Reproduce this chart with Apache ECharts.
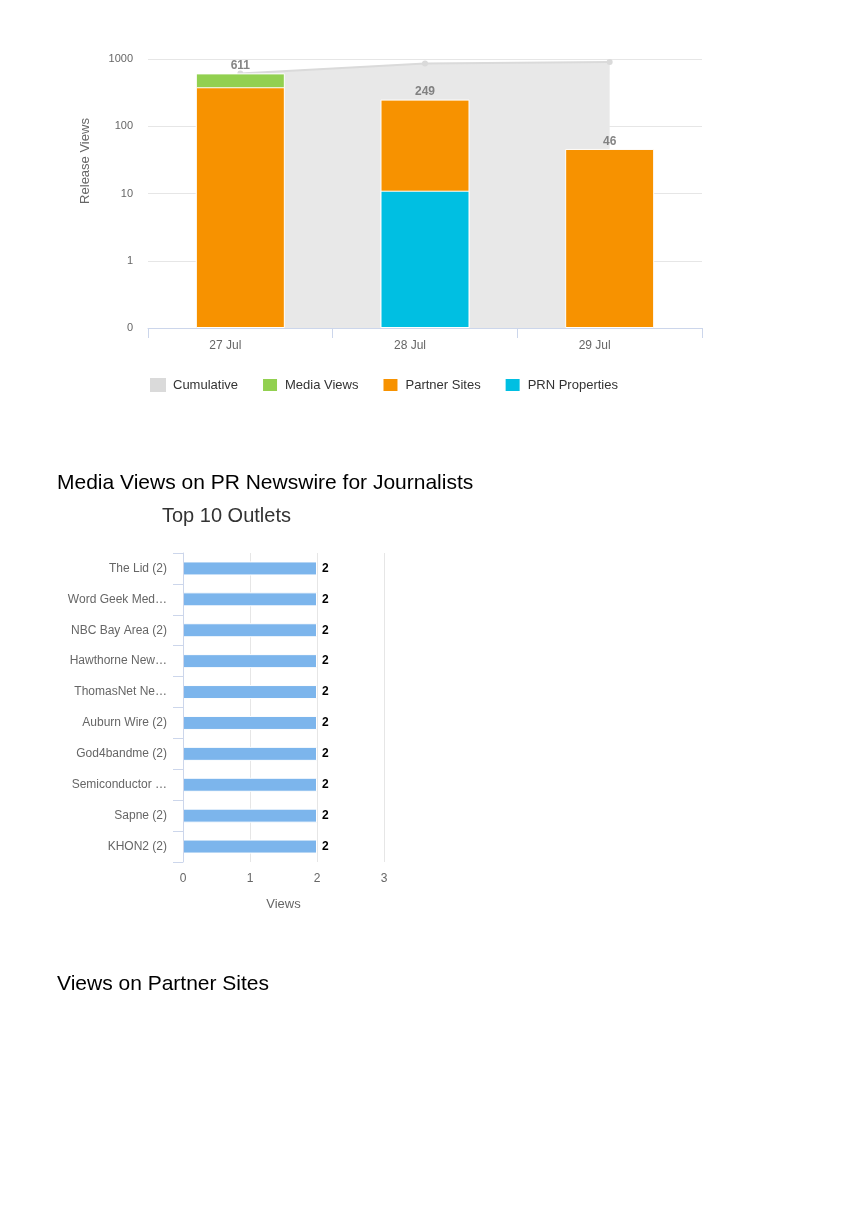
<!DOCTYPE html>
<html>
<head>
<meta charset="utf-8">
<script src="https://cdn.jsdelivr.net/npm/echarts@6/dist/echarts.min.js"></script>
<style>
  html, body { margin: 0; padding: 0; background: #fff; }
  #chart-container { width: 864px; height: 1223px; }
</style>
</head>
<body>
<div id="chart-container"></div>
<script>
// release views by day
var days = ["27 Jul", "28 Jul", "29 Jul"];
var cumulative = [611, 860, 906];
var mediaViews = [231, 0, 0];
var partnerSites = [380, 238, 46];
var prnProperties = [0, 11, 0];

// top 10 outlets
var outlets = [
  "The Lid (2)",
  "Word Geek Med\u2026",
  "NBC Bay Area (2)",
  "Hawthorne New\u2026",
  "ThomasNet Ne\u2026",
  "Auburn Wire (2)",
  "God4bandme (2)",
  "Semiconductor \u2026",
  "Sapne (2)",
  "KHON2 (2)"
];
var outletViews = [2, 2, 2, 2, 2, 2, 2, 2, 2, 2];

// stacking on a log axis: draw each segment as an overlapping bar up to its stack top
var prnTop = [], partnerTop = [], mediaTop = [], dayTotals = [];
for (var i = 0; i < days.length; i++) {
  var a = prnProperties[i];
  var b = a + partnerSites[i];
  var c = b + mediaViews[i];
  prnTop.push(prnProperties[i] > 0 ? a : "-");
  partnerTop.push(partnerSites[i] > 0 ? b : "-");
  mediaTop.push(mediaViews[i] > 0 ? c : "-");
  dayTotals.push(c);
}

var font = "'Liberation Sans', Arial, Helvetica, sans-serif";
var axisBlue = "#ccd6eb";
var gridGrey = "#e6e6e6";

var dom = document.getElementById("chart-container");
var myChart = echarts.init(dom, null, { renderer: "canvas" });

var option = {
  animation: false,
  textStyle: { fontFamily: font },
  title: [
    {
      text: "Media Views on PR Newswire for Journalists",
      left: 52, top: 468,
      textStyle: { fontSize: 21, fontWeight: "normal", color: "#000", fontFamily: font }
    },
    {
      text: "Top 10 Outlets",
      left: 157, top: 501,
      textStyle: { fontSize: 20, fontWeight: "normal", color: "#333", fontFamily: font }
    },
    {
      text: "Views on Partner Sites",
      left: 52, top: 969,
      textStyle: { fontSize: 21, fontWeight: "normal", color: "#000", fontFamily: font }
    }
  ],
  graphic: [
    {
      type: "text",
      x: 85, y: 161,
      rotation: Math.PI / 2,
      style: {
        text: "Release Views",
        fill: "#666",
        font: "13px " + font,
        align: "center",
        verticalAlign: "middle"
      }
    }
  ],
  legend: {
    data: ["Cumulative", "Media Views", "Partner Sites", "PRN Properties"],
    left: 145, top: 372,
    icon: "rect",
    itemWidth: 16, itemHeight: 14,
    itemGap: 23,
    textStyle: { fontSize: 13, color: "#333", fontFamily: font, padding: [0, 0, 0, 2] }
  },
  grid: [
    { left: 148, top: 59, width: 554, height: 269 },
    { left: 183, top: 553, width: 201, height: 309 }
  ],
  xAxis: [
    {
      gridIndex: 0,
      type: "category",
      data: days,
      axisLine: { show: true, lineStyle: { color: axisBlue, width: 1 } },
      axisTick: { show: true, length: 10, lineStyle: { color: axisBlue, width: 1 } },
      axisLabel: { color: "#666", fontSize: 12, margin: 12, padding: [0, 30, 0, 0] }
    },
    {
      gridIndex: 1,
      type: "value",
      min: 0, max: 3, interval: 1,
      name: "Views",
      nameLocation: "middle",
      nameGap: 36,
      nameTextStyle: { color: "#666", fontSize: 13 },
      axisLine: { show: false },
      axisTick: { show: false },
      axisLabel: { color: "#666", fontSize: 12, margin: 11 },
      splitLine: { show: true, lineStyle: { color: gridGrey } }
    }
  ],
  yAxis: [
    {
      gridIndex: 0,
      type: "log",
      logBase: 10,
      min: 0.1, max: 1000,
      startValue: 0.1,
      axisLine: { show: false },
      axisTick: { show: false },
      axisLabel: {
        color: "#666", fontSize: 11, margin: 15,
        formatter: function (v) { return v < 0.5 ? "0" : String(Math.round(v)); }
      },
      splitLine: { show: true, lineStyle: { color: gridGrey } }
    },
    {
      gridIndex: 1,
      type: "category",
      data: outlets,
      inverse: true,
      z: 3,
      axisLine: { show: true, lineStyle: { color: axisBlue, width: 1 } },
      axisTick: { show: true, length: 10, lineStyle: { color: axisBlue, width: 1 } },
      axisLabel: { color: "#666", fontSize: 12, margin: 16 }
    }
  ],
  series: [
    {
      name: "Cumulative",
      type: "line",
      xAxisIndex: 0, yAxisIndex: 0,
      data: cumulative,
      z: 1,
      symbol: "circle",
      symbolSize: 6,
      itemStyle: { color: "#dadada" },
      lineStyle: { color: "#dadada", width: 2 },
      areaStyle: { color: "#e8e8e8", opacity: 1, origin: "start" }
    },
    {
      name: "Media Views",
      type: "bar",
      xAxisIndex: 0, yAxisIndex: 0,
      data: mediaTop,
      barWidth: 89,
      barGap: "-100%",
      itemStyle: { color: "#92d050", borderColor: "#fff", borderWidth: 1 }
    },
    {
      name: "Partner Sites",
      type: "bar",
      xAxisIndex: 0, yAxisIndex: 0,
      data: partnerTop,
      barWidth: 89,
      barGap: "-100%",
      itemStyle: { color: "#f79200", borderColor: "#fff", borderWidth: 1 }
    },
    {
      name: "PRN Properties",
      type: "bar",
      xAxisIndex: 0, yAxisIndex: 0,
      data: prnTop,
      barWidth: 89,
      barGap: "-100%",
      itemStyle: { color: "#00bfe2", borderColor: "#fff", borderWidth: 1 }
    },
    {
      name: "Total",
      type: "scatter",
      xAxisIndex: 0, yAxisIndex: 0,
      data: dayTotals,
      symbolSize: 1,
      z: 5,
      itemStyle: { color: "rgba(0,0,0,0)" },
      label: {
        show: true,
        position: "top",
        distance: 1,
        color: "#666",
        fontWeight: "bold",
        fontSize: 12
      }
    },
    {
      name: "Views",
      type: "bar",
      xAxisIndex: 1, yAxisIndex: 1,
      data: outletViews,
      barWidth: 14,
      itemStyle: { color: "#7cb5ec", borderColor: "#fff", borderWidth: 1 },
      label: {
        show: true,
        position: "right",
        distance: 5,
        color: "#000",
        fontWeight: "bold",
        fontSize: 12
      }
    }
  ]
};

if (option && typeof option === "object") {
  myChart.setOption(option);
}

window.addEventListener("resize", myChart.resize);
</script>
</body>
</html>
